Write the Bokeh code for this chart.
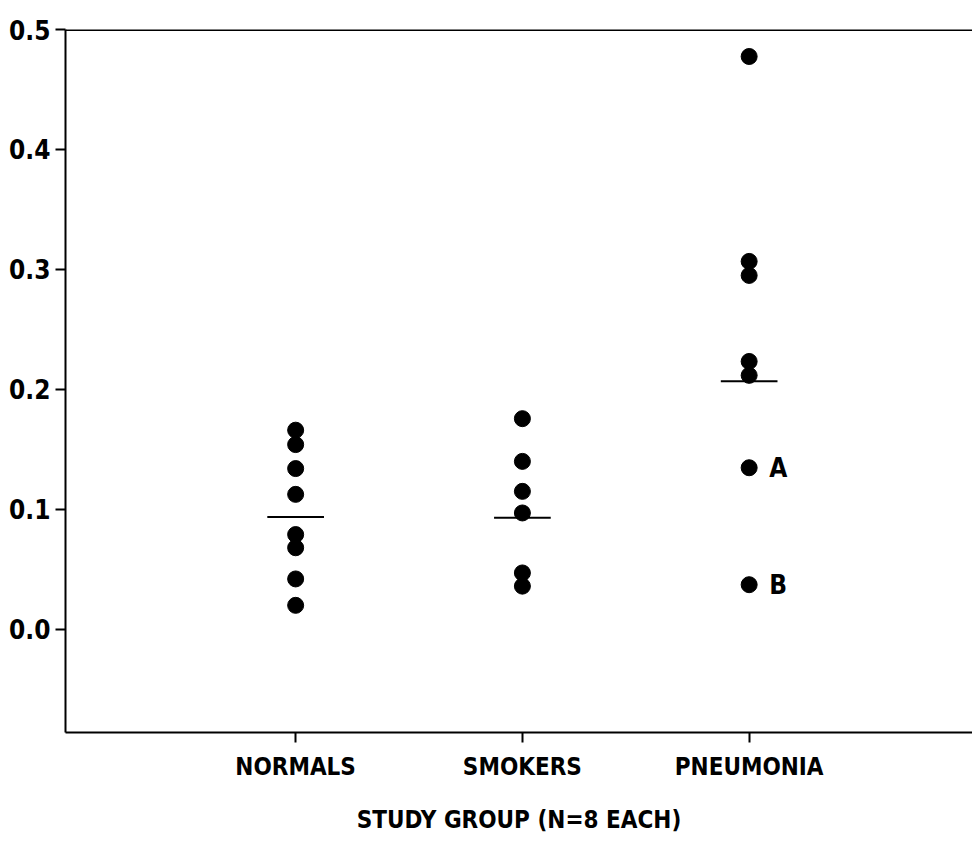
from bokeh.plotting import figure
from bokeh.models import FixedTicker, PrintfTickFormatter, Span, ColumnDataSource
from bokeh.core.properties import value
from bokeh.embed import file_html
from bokeh.resources import INLINE

# ---- data ----
groups = ["NORMALS", "SMOKERS", "PNEUMONIA"]
normals = [0.166, 0.154, 0.134, 0.1125, 0.079, 0.068, 0.042, 0.020]
smokers = [0.1756, 0.140, 0.115, 0.097, 0.047, 0.036]
pneumonia = [0.4775, 0.3067, 0.295, 0.2233, 0.2117, 0.1347, 0.0372]
means = [0.0936, 0.093, 0.2067]
point_labels = ["A", "B"]
point_label_values = [0.1347, 0.0372]
y_ticks = [0.0, 0.1, 0.2, 0.3, 0.4, 0.5]
x_title = "STUDY GROUP (N=8 EACH)"

FONT = "DejaVu Sans Condensed"

p = figure(width=972, height=842, output_backend="svg", toolbar_location=None,
           x_range=(-0.015, 3.985), y_range=(-0.086, 0.5),
           min_border_left=65, min_border_top=29, min_border_right=0,
           min_border_bottom=110)
p.outline_line_color = None
p.grid.visible = False
p.background_fill_color = "white"

xs, ys = [], []
for i, vals in enumerate([normals, smokers, pneumonia]):
    xs += [i + 1] * len(vals)
    ys += vals
p.scatter(xs, ys, size=16, color="black", marker="circle")

mx = [i + 1 for i in range(len(means))]
p.segment(x0=[x - 0.125 for x in mx], x1=[x + 0.125 for x in mx],
          y0=means, y1=means, line_color="black", line_width=2)

src = ColumnDataSource(dict(x=[3] * len(point_labels), y=point_label_values,
                            t=point_labels))
p.text(x="x", y="y", text="t", source=src, x_offset=20,
       text_baseline="middle", text_align="left", text_font=value(FONT),
       text_font_style="bold", text_font_size="26px", text_color="black")

p.add_layout(Span(location=0.5, dimension="width", line_color="black",
                  line_width=3))

# axes
p.xaxis.ticker = FixedTicker(ticks=[1, 2, 3])
p.xaxis.major_label_overrides = {i + 1: g for i, g in enumerate(groups)}
p.yaxis.ticker = FixedTicker(ticks=y_ticks)
p.yaxis.formatter = PrintfTickFormatter(format="%.1f")
for ax in (p.xaxis, p.yaxis):
    ax.axis_line_width = 2
    ax.axis_line_color = "black"
    ax.major_tick_line_width = 2
    ax.major_tick_line_color = "black"
    ax.major_tick_out = 10
    ax.major_tick_in = 0
    ax.minor_tick_line_color = None
    ax.major_label_text_font = FONT
    ax.major_label_text_font_style = "bold"
    ax.major_label_text_color = "black"
p.yaxis.major_label_text_font_size = "26px"
p.xaxis.major_label_text_font_size = "24px"
p.yaxis.major_label_standoff = 5
p.xaxis.major_label_standoff = 10
p.xaxis.axis_label = x_title
p.xaxis.axis_label_text_font = FONT
p.xaxis.axis_label_text_font_style = "bold"
p.xaxis.axis_label_text_font_size = "24px"
p.xaxis.axis_label_text_color = "black"
p.xaxis.axis_label_standoff = 22

open("out.html", "w").write(file_html(p, INLINE))
